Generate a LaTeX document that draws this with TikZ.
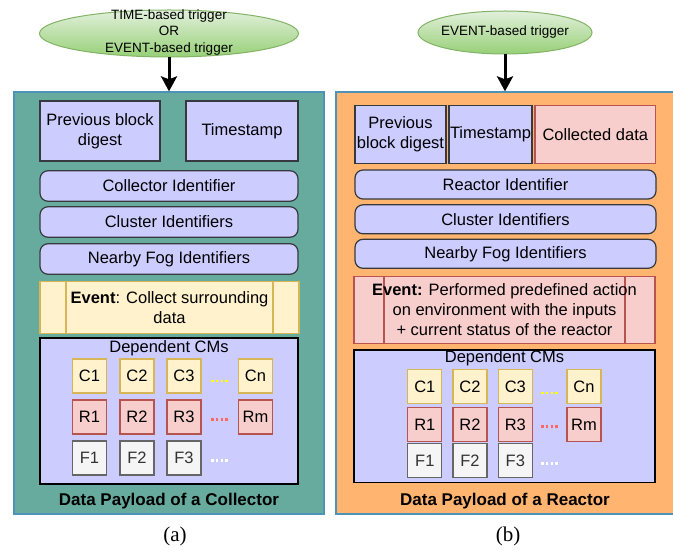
\documentclass[tikz,border=0pt]{standalone}
\usepackage{fontspec}
\setmainfont{Liberation Sans}
\newfontfamily\capfont{Liberation Serif}
\usetikzlibrary{arrows.meta,shapes.geometric}
\definecolor{tealbg}{HTML}{67AB9F}
\definecolor{orangebg}{HTML}{FFB570}
\definecolor{panelline}{HTML}{4D93B8}
\definecolor{lilac}{HTML}{CCCCFF}
\definecolor{darkline}{HTML}{36393D}
\definecolor{leafpale}{HTML}{E2F0DC}
\definecolor{leafdeep}{HTML}{97D077}
\definecolor{leafline}{HTML}{82B366}
\definecolor{cream}{HTML}{FFF2CC}
\definecolor{creamline}{HTML}{D6B656}
\definecolor{rose}{HTML}{F8CECC}
\definecolor{roseline}{HTML}{B85450}
\definecolor{fogfill}{HTML}{F5F5F5}
\definecolor{fogline}{HTML}{666666}
\definecolor{fogtext}{HTML}{333333}
\definecolor{dotyellow}{HTML}{FFFF00}
\definecolor{dotred}{HTML}{FF6666}
\newcommand{\boxsize}{\fontsize{16.5bp}{20bp}\selectfont}
\tikzset{
  panel/.style={draw=panelline, line width=1.3bp, inner sep=0pt},
  trig/.style={ellipse, draw=leafline, line width=1bp, top color=leafpale,
               bottom color=leafdeep, inner sep=0pt},
  trigtext/.style={align=center, font=\fontsize{13.5bp}{16.7bp}\selectfont},
  push/.style={-{Stealth[length=15bp,width=16bp,inset=3bp]}, line width=3bp, black},
  box/.style={draw=darkline, fill=lilac, line width=1.2bp, align=center,
              inner sep=0.5bp},
  idbar/.style={box, rounded corners=8bp, minimum height=30.5bp},
  evbox/.style={draw=#1, line width=1.2bp, align=center, inner sep=0pt},
  cmbox/.style={draw, line width=1.2bp, minimum width=34bp, minimum height=34bp,
                inner sep=0pt},
  dots/.style={minimum width=18bp, minimum height=3bp, inner sep=0pt,
               path picture={\draw[#1, line width=2.6bp, dash pattern=on 2.6bp off 2.2bp]
                 (path picture bounding box.west) -- (path picture bounding box.east);}},
  heading/.style={font=\fontsize{17bp}{20bp}\selectfont\bfseries},
  caption/.style={font=\capfont\fontsize{21bp}{24bp}\selectfont},
}

\begin{document}
\begin{tikzpicture}[x=1bp, y=-1bp, font=\boxsize]
  \useasboundingbox (0,0) rectangle (673,550);

  % (a) collector
  \node[panel, fill=tealbg, minimum width=310bp, minimum height=422bp] (panL) at (169,303) {};
  \node[trig, minimum width=259bp, minimum height=47bp] (ellL) at (169,33.5) {};
  \node[trigtext] (ellLtext) at (169,32.5) {TIME-based trigger\\OR\\EVENT-based trigger};
  \draw[push] (ellL) -- (panL);

  \node[box, minimum width=120bp, minimum height=60bp] (prevL) at (100,131) {Previous block\\digest};
  \node[box, minimum width=112bp, minimum height=60bp] (timeL) at (242,131) {Timestamp};
  \node[idbar, minimum width=258bp] (collL) at (169,186) {Collector Identifier};
  \node[idbar, minimum width=258bp] (clusL) at (169,222) {Cluster Identifiers};
  \node[idbar, minimum width=258bp] (fogL) at (169,259) {Nearby Fog Identifiers};
  \node[evbox=creamline, fill=cream, minimum width=259bp, minimum height=52bp,
        path picture={\draw[creamline, line width=1.2bp]
          ([xshift=26bp]path picture bounding box.north west) -- ([xshift=26bp]path picture bounding box.south west)
          ([xshift=-26bp]path picture bounding box.north east) -- ([xshift=-26bp]path picture bounding box.south east);}]
        (eventL) at (169.5,307.5) {\textbf{Event}: Collect surrounding\\data};
  \node[box, draw=black, minimum width=258bp, minimum height=146bp] (depL) at (169,411) {};
  \node (depLtext) at (169,348) {Dependent CMs};
  \foreach \i/\x in {1/89.5, 2/137, 3/184}
    { \node[cmbox, fill=cream, draw=creamline] (cL\i) at (\x,376) {C\i};
      \node[cmbox, fill=rose, draw=roseline] (rL\i) at (\x,417) {R\i};
      \node[cmbox, fill=fogfill, draw=fogline, text=fogtext] (fL\i) at (\x,458) {F\i}; }
  \node[cmbox, fill=cream, draw=creamline] (cLn) at (255.5,376) {Cn};
  \node[cmbox, fill=rose, draw=roseline] (rLm) at (255.5,417) {Rm};
  \node[dots=dotyellow] (cLdots) at (220,381) {};
  \node[dots=dotred] (rLdots) at (220,419.5) {};
  \node[dots=white] (fLdots) at (220,460.5) {};
  \node[heading] (titleL) at (169,501.5) {Data Payload of a Collector};
  \node[caption] (capL) at (175,536.5) {(a)};

  % (b) reactor
  \node[panel, fill=orangebg, minimum width=338bp, minimum height=422bp] (panR) at (505,303) {};
  \node[trig, minimum width=174bp, minimum height=43bp] (ellR) at (505,32.5) {};
  \node[trigtext] (ellRtext) at (505,32.3) {EVENT-based trigger};
  \draw[push] (ellR) -- (panR);

  \node[box, minimum width=91bp, minimum height=58bp] (prevR) at (400.5,134.3) {Previous\\block digest};
  \node[box, minimum width=83bp, minimum height=58bp] (timeR) at (490.5,134.3) {Timestamp};
  \node[box, fill=rose, draw=roseline, minimum width=120.7bp, minimum height=58bp] (dataR) at (595.3,134.3) {Collected data};
  \node[idbar, minimum width=301bp, minimum height=29bp] (reacR) at (505.5,184.5) {Reactor Identifier};
  \node[idbar, minimum width=301bp, minimum height=29bp] (clusR) at (505.5,219.3) {Cluster Identifiers};
  \node[idbar, minimum width=301bp, minimum height=29bp] (fogR) at (505.5,253.8) {Nearby Fog Identifiers};
  \node[evbox=roseline, fill=rose, minimum width=301bp, minimum height=66.7bp,
        path picture={\draw[roseline, line width=1.2bp]
          ([xshift=30bp]path picture bounding box.north west) -- ([xshift=30bp]path picture bounding box.south west)
          ([xshift=-30bp]path picture bounding box.north east) -- ([xshift=-30bp]path picture bounding box.south east);}]
        (eventR) at (504.5,310) {\textbf{Event:} Performed predefined action\\on environment with the inputs\\+ current status of the reactor};
  \node[box, draw=black, minimum width=301bp, minimum height=132.3bp] (depR) at (504.5,416.2) {};
  \node (depRtext) at (504.5,358.3) {Dependent CMs};
  \foreach \i/\x in {1/424.8, 2/470, 3/515.3}
    { \node[cmbox, fill=cream, draw=creamline] (cR\i) at (\x,386.7) {C\i};
      \node[cmbox, fill=rose, draw=roseline] (rR\i) at (\x,424.5) {R\i};
      \node[cmbox, fill=fogfill, draw=fogline, text=fogtext] (fR\i) at (\x,460.8) {F\i}; }
  \node[cmbox, fill=cream, draw=creamline] (cRn) at (584,386.7) {Cn};
  \node[cmbox, fill=rose, draw=roseline] (rRm) at (584,424.5) {Rm};
  \node[dots=dotyellow] (cRdots) at (550,393) {};
  \node[dots=dotred] (rRdots) at (550,426.5) {};
  \node[dots=white] (fRdots) at (550,463.5) {};
  \node[heading] (titleR) at (505,500.7) {Data Payload of a Reactor};
  \node[caption] (capR) at (508,536.5) {(b)};
\end{tikzpicture}
\end{document}
